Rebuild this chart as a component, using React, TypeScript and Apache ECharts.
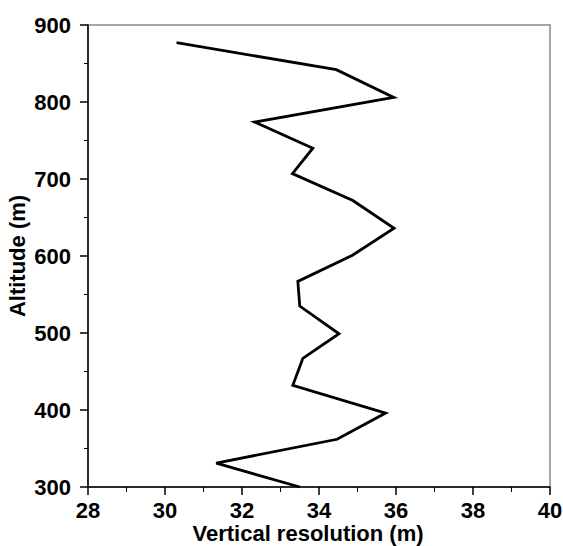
import React, { useEffect, useRef } from "react";
import * as echarts from "echarts";

const resolution = [33.5, 31.33, 34.47, 35.73, 33.32, 33.58, 34.52, 33.5, 33.45, 34.87, 35.95, 34.88, 33.31, 33.84, 32.33, 35.94, 34.45, 30.3];
const altitude = [300, 331, 362, 396, 432, 467, 499, 535, 567, 601, 636, 672, 707, 740, 774, 806, 842, 877];

export default function App() {
  const ref = useRef<HTMLDivElement>(null);
  useEffect(() => {
    if (!ref.current) return;
    const chart = echarts.init(ref.current, null, { renderer: "svg" });
    const font = "'Liberation Sans', Arial, sans-serif";
    chart.setOption({
      animation: false,
      backgroundColor: "#ffffff",
      grid: {
        left: 88, right: 13, top: 25, bottom: 59,
        containLabel: false, outerBoundsMode: "none",
        show: true, borderColor: "#8a8a8a", borderWidth: 1.5,
      },
      xAxis: {
        type: "value",
        min: 28,
        max: 40,
        interval: 2,
        name: "Vertical resolution (m)",
        nameLocation: "middle",
        nameGap: 35,
        nameMoveOverlap: false,
        nameTextStyle: { fontFamily: font, fontWeight: "bold", fontSize: 22, lineHeight: 22, color: "#000", padding: [0, 22, 0, 0] },
        axisLine: { onZero: false, lineStyle: { color: "#000", width: 1.5 } },
        axisTick: { show: true, inside: false, length: 8, lineStyle: { color: "#000", width: 1.5 } },
        minorTick: { show: true, splitNumber: 2, length: 5, lineStyle: { color: "#000", width: 1 } },
        axisLabel: { margin: 12, fontFamily: font, fontWeight: "bold", fontSize: 22, color: "#000" },
        splitLine: { show: false },
      },
      yAxis: {
        type: "value",
        min: 300,
        max: 900,
        interval: 100,
        name: "Altitude (m)",
        nameLocation: "middle",
        nameGap: 60,
        nameMoveOverlap: false,
        nameRotate: 90,
        nameTextStyle: { fontFamily: font, fontWeight: "bold", fontSize: 22, lineHeight: 22, color: "#000" },
        axisLine: { onZero: false, lineStyle: { color: "#000", width: 1.5 } },
        axisTick: { show: true, inside: false, length: 8, lineStyle: { color: "#000", width: 1.5 } },
        minorTick: { show: true, splitNumber: 2, length: 4, lineStyle: { color: "#000", width: 1 } },
        axisLabel: { margin: 17, fontFamily: font, fontWeight: "bold", fontSize: 22, color: "#000" },
        splitLine: { show: false },
      },
      series: [
        {
          type: "line",
          data: resolution.map((r, i) => [r, altitude[i]]),
          showSymbol: false,
          symbol: "none",
          lineStyle: { color: "#000", width: 2.8, join: "miter" },
        },
      ],
    });
    return () => chart.dispose();
  }, []);
  return <div ref={ref} style={{ position: "fixed", left: 0, top: 0, width: 563, height: 546 }} />;
}
